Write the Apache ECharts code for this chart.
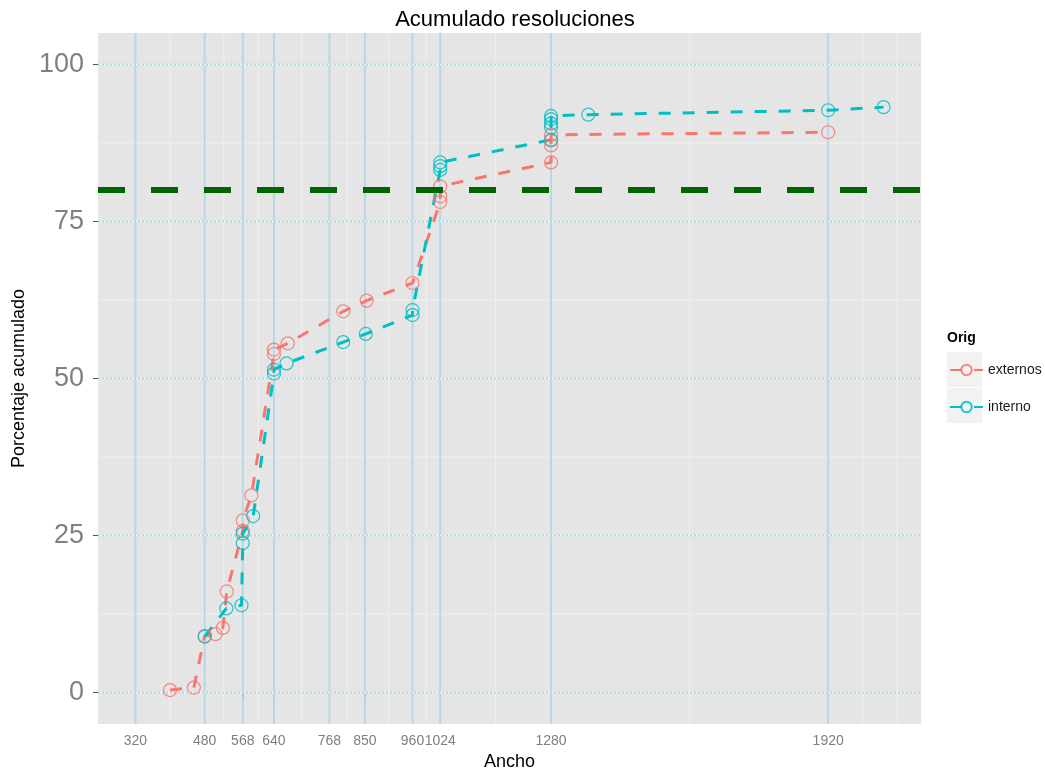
<!DOCTYPE html>
<html>
<head>
<meta charset="utf-8">
<script src="https://cdn.jsdelivr.net/npm/echarts@6/dist/echarts.min.js"></script>
<style>html,body{margin:0;padding:0;background:#fff}#c{width:1045px;height:770px}</style>
</head>
<body>
<div id="c"></div>
<script>
// ---- data ----
const seriesNames = ['externos', 'interno'];
const externosX = [400, 455, 480, 505, 522, 531, 568, 568, 588, 640, 640, 672, 800, 854, 960, 1024, 1024, 1024, 1280, 1280, 1280, 1280, 1920];
const externosY = [0.4, 0.8, 9.0, 9.3, 10.3, 16.1, 25.7, 27.4, 31.4, 53.9, 54.6, 55.6, 60.7, 62.4, 65.2, 78.1, 79.0, 80.6, 84.4, 87.1, 87.9, 88.8, 89.2];
const internoX = [480, 530, 565, 568, 568, 592, 640, 640, 669, 800, 852, 960, 960, 1024, 1024, 1024, 1280, 1280, 1280, 1280, 1280, 1366, 1920, 2048];
const internoY = [8.9, 13.4, 13.9, 23.8, 25.3, 28.1, 50.8, 51.4, 52.4, 55.8, 57.1, 60.1, 60.9, 83.2, 83.8, 84.4, 88.0, 90.0, 90.6, 91.3, 91.8, 92.0, 92.7, 93.2];
const xTicks = [320, 480, 568, 640, 768, 850, 960, 1024, 1280, 1920];
const xMinor = [400, 524, 604, 704, 809, 905, 992, 1152, 1600, 2000, 2080];
const yTicks = [0, 25, 50, 75, 100];
const yMinor = [12.5, 37.5, 62.5, 87.5];
const threshold = 80;

// ---- config ----
const X_MIN = 233.6, X_MAX = 2134.4, Y_MIN = -5, Y_MAX = 105;
const RED = '#F8766D', TEAL = '#00BFC4';
const FONT = 'Liberation Sans';

function pairs(xs, ys) { return xs.map((x, i) => [x, ys[i]]); }

function vLines(style) {
  return function (params, api) {
    const v = api.value(0);
    const a = api.coord([v, Y_MAX]);
    const b = api.coord([v, Y_MIN]);
    return { type: 'line', shape: { x1: a[0], y1: a[1], x2: b[0], y2: b[1] }, style: style };
  };
}
function hLines(style) {
  return function (params, api) {
    const v = api.value(1);
    const a = api.coord([X_MIN, v]);
    const b = api.coord([X_MAX, v]);
    return { type: 'line', shape: { x1: a[0], y1: a[1], x2: b[0], y2: b[1] }, style: style };
  };
}

const chart = echarts.init(document.getElementById('c'), null, { renderer: 'canvas' });

const dataSeries = (name, xs, ys, color) => ({
  name: name,
  type: 'line',
  data: pairs(xs, ys),
  z: 5,
  symbol: 'circle',
  symbolSize: 13,
  showAllSymbol: true,
  animation: false,
  itemStyle: { color: 'rgba(255,255,255,0)', borderColor: color, borderWidth: 1.2, opacity: 0.85 },
  lineStyle: { color: color, width: 3, type: [12, 12] },
  emphasis: { disabled: true }
});

chart.setOption({
  animation: false,
  backgroundColor: '#ffffff',
  textStyle: { fontFamily: FONT },
  title: {
    text: 'Acumulado resoluciones',
    left: 510, top: 4, textAlign: 'center',
    textStyle: { fontFamily: FONT, fontSize: 22, fontWeight: 'normal', color: '#000' }
  },
  grid: { left: 98, right: 124, top: 33, bottom: 46, outerBoundsMode: 'none', containLabel: false, show: true, backgroundColor: '#e5e5e5', borderWidth: 0 },
  xAxis: {
    type: 'value', min: X_MIN, max: X_MAX,
    name: 'Ancho', nameLocation: 'middle', nameGap: 28,
    nameTextStyle: { fontFamily: FONT, fontSize: 18, color: '#000' },
    axisLine: { show: false },
    splitLine: { show: false },
    axisTick: { show: true, customValues: xTicks, length: 5, lineStyle: { color: '#555' } },
    axisLabel: { customValues: xTicks, formatter: v => String(v), fontSize: 14, color: '#7f7f7f', margin: 10, fontFamily: FONT }
  },
  yAxis: {
    type: 'value', min: Y_MIN, max: Y_MAX,
    name: 'Porcentaje acumulado', nameLocation: 'middle', nameGap: 68,
    nameTextStyle: { fontFamily: FONT, fontSize: 18, color: '#000' },
    axisLine: { show: false },
    splitLine: { show: false },
    axisTick: { show: true, customValues: yTicks, length: 5, lineStyle: { color: '#555' } },
    axisLabel: { customValues: yTicks, formatter: v => String(v), fontSize: 27, color: '#808080', margin: 14, fontFamily: FONT }
  },
  legend: {
    data: seriesNames,
    orient: 'vertical',
    left: 944, top: 358,
    itemWidth: 33, itemHeight: 13, itemGap: 23,
    textStyle: { fontFamily: FONT, fontSize: 14, color: '#1a1a1a' }
  },
  graphic: [
    { type: 'rect', left: 947, top: 352, shape: { width: 35, height: 35 }, style: { fill: '#f2f2f2' }, z: -1 },
    { type: 'rect', left: 947, top: 388, shape: { width: 35, height: 35 }, style: { fill: '#f2f2f2' }, z: -1 },
    { type: 'text', left: 947, top: 331, style: { text: 'Orig', font: 'bold 14px "Liberation Sans"', fill: '#000' } }
  ],
  series: [
    { type: 'custom', name: 'minorX', data: xMinor.map(v => [v, 0]), renderItem: vLines({ stroke: '#f0f0f0', lineWidth: 1 }), z: 1, silent: true, clip: true },
    { type: 'custom', name: 'minorY', data: yMinor.map(v => [X_MIN, v]), renderItem: hLines({ stroke: '#f0f0f0', lineWidth: 1 }), z: 1, silent: true, clip: true },
    { type: 'custom', name: 'majorX', data: xTicks.map(v => [v, 0]), renderItem: vLines({ stroke: '#b6d8e4', lineWidth: 2 }), z: 2, silent: true, clip: true },
    { type: 'custom', name: 'majorYbase', data: yTicks.map(v => [X_MIN, v]), renderItem: hLines({ stroke: '#f3f3f3', lineWidth: 1.5 }), z: 2, silent: true, clip: true },
    { type: 'custom', name: 'majorY', data: yTicks.map(v => [X_MIN, v]), renderItem: hLines({ stroke: '#add8e6', lineWidth: 2, lineDash: [2, 2] }), z: 2, silent: true, clip: true },
    dataSeries('externos', externosX, externosY, RED),
    dataSeries('interno', internoX, internoY, TEAL),
    {
      name: 'threshold', type: 'line', z: 6, symbol: 'none', silent: true,
      data: [[X_MIN, threshold], [X_MAX, threshold]],
      lineStyle: { color: '#006400', width: 6, type: [27, 26] }
    }
  ]
});
</script>
</body>
</html>
